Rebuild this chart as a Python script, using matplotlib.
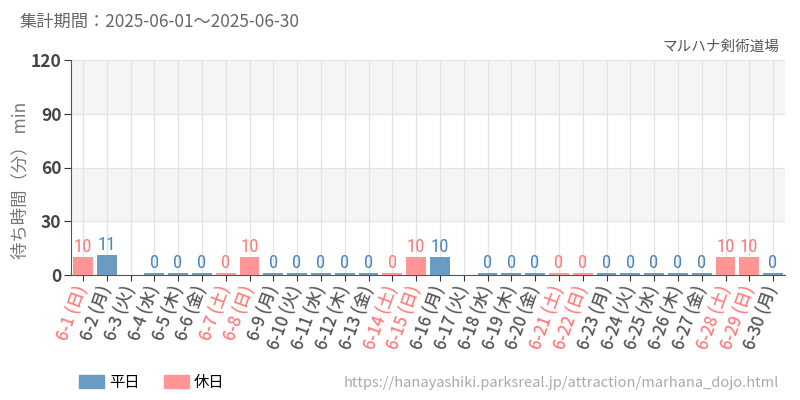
import matplotlib
matplotlib.use("Agg")
import matplotlib.pyplot as plt
from matplotlib.patches import Patch
from matplotlib import font_manager

# data
days = ["6-1", "6-2", "6-3", "6-4", "6-5", "6-6", "6-7", "6-8", "6-9", "6-10",
        "6-11", "6-12", "6-13", "6-14", "6-15", "6-16", "6-17", "6-18", "6-19", "6-20",
        "6-21", "6-22", "6-23", "6-24", "6-25", "6-26", "6-27", "6-28", "6-29", "6-30"]
weekdays = ["日", "月", "火", "水", "木", "金", "土"] * 4 + ["日", "月"]
holiday = [w in ("土", "日") for w in weekdays]
wait_min = [10, 11, None, 0, 0, 0, 0, 10, 0, 0,
            0, 0, 0, 0, 10, 10, None, 0, 0, 0,
            0, 0, 0, 0, 0, 0, 0, 10, 10, 0]
yticks = [0, 30, 60, 90, 120]

CJK = ["Noto Sans CJK JP", "DejaVu Sans"]
plt.rcParams["font.family"] = CJK

# a narrow face for the value labels if one is installed
installed = {f.name for f in font_manager.fontManager.ttflist}
narrow = [n for n in ["Roboto Condensed", "Liberation Sans Narrow", "DejaVu Sans Condensed",
                      "Open Sans Condensed", "Roboto"] if n in installed]
num_font = narrow[0] if narrow else "DejaVu Sans"

BLUE = "#6a9bc3"
PINK = "#ff9595"
BLUE_TXT = "#4a86bf"
PINK_TXT = "#ff7b7b"
GREY = "#555555"

fig = plt.figure(figsize=(8, 4), dpi=100)
ax = fig.add_axes([71 / 800, 125 / 400, 714 / 800, 215 / 400])

# alternating background bands
for i in range(len(yticks) - 1):
    if i % 2 == 1:
        ax.axhspan(yticks[i], yticks[i + 1], color="#f5f5f5", zorder=0, lw=0)

x = list(range(len(days)))
for xi, v, hol in zip(x, wait_min, holiday):
    if v is None:
        continue
    h = v if v > 0 else 0.9
    ax.bar(xi, h, width=0.84, color=PINK if hol else BLUE, zorder=3)
    ax.text(xi, h + 0.6, str(v), ha="center", va="bottom", fontsize=13.5,
            color=PINK_TXT if hol else BLUE_TXT, zorder=4, family=num_font)

ax.set_xlim(-0.5, len(days) - 0.5)
ax.set_ylim(0, 120)
ax.set_yticks(yticks)
ax.set_yticklabels([str(t) for t in yticks], fontsize=12.5, color="#444444",
                   fontweight="bold")
ax.set_xticks(x)
labels = ax.set_xticklabels([f"{d} ({w})" for d, w in zip(days, weekdays)],
                            rotation=70, ha="right", va="center",
                            rotation_mode="anchor", fontsize=12, fontweight="medium")
for lab, hol in zip(labels, holiday):
    lab.set_color(PINK_TXT if hol else GREY)

ax.grid(True, color="#e3e3e3", lw=0.9, zorder=1)
ax.tick_params(axis="x", length=4, color="#333333", pad=4)
ax.tick_params(axis="y", length=5, color="#333333", pad=2)
for s in ["top", "right"]:
    ax.spines[s].set_visible(False)
ax.spines["left"].set_color("#555555")
ax.spines["bottom"].set_color("#555555")

ax.set_ylabel("待ち時間（分） min", fontsize=12.5, color="#777777", va="center")
ax.yaxis.set_label_coords(-0.071, 0.44)

fig.text(20 / 800, 1 - 22 / 400, "集計期間：2025-06-01～2025-06-30",
         fontsize=12.4, color="#666666", va="center", ha="left")
fig.text(780 / 800, 1 - 47 / 400, "マルハナ剣術道場",
         fontsize=10.5, color="#555555", va="center", ha="right")
fig.text(779 / 800, 1 - 383 / 400,
         "https://hanayashiki.parksreal.jp/attraction/marhana_dojo.html",
         fontsize=10.5, color="#aaaaaa", va="center", ha="right")

handles = [Patch(color=BLUE, label="平日"), Patch(color=PINK, label="休日")]
fig.legend(handles=handles, loc="center left", bbox_to_anchor=(65 / 800, 1 - 382 / 400),
           ncol=2, frameon=False, fontsize=11, handlelength=1.64, handleheight=0.9,
           handletextpad=0.33, columnspacing=1.6)

fig.savefig("out.png", dpi=100)
